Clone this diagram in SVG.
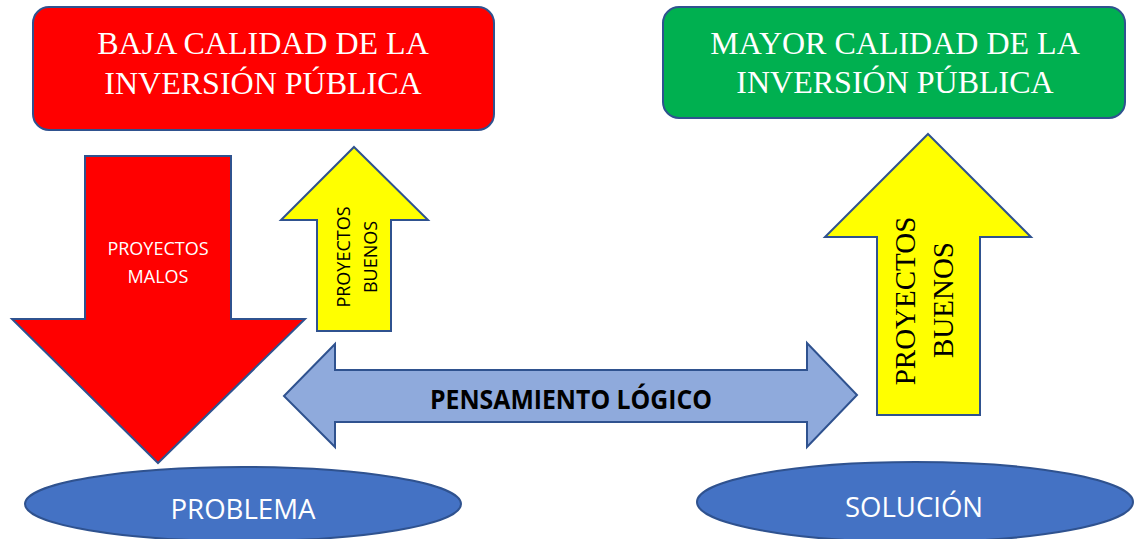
<svg xmlns="http://www.w3.org/2000/svg" width="1134" height="539" viewBox="0 0 1134 539">
<style>
.s{stroke:#2F528F;stroke-width:2;stroke-linejoin:miter}
.serif{font-family:"Liberation Serif","Times New Roman",serif}
.sans{font-family:"Open Sans","Noto Sans","Liberation Sans",sans-serif}
</style>
<rect width="1134" height="539" fill="#FFFFFF"/>
<g id="box-baja">
<rect class="s" x="33" y="7" width="461" height="123" rx="16" ry="16" fill="#FF0000"/>
<text class="serif" x="263" y="54" font-size="32" fill="#FFFFFF" text-anchor="middle">BAJA CALIDAD DE LA</text>
<text class="serif" x="263" y="94" font-size="32" fill="#FFFFFF" text-anchor="middle">INVERSIÓN PÚBLICA</text>
</g>
<g id="box-mayor">
<rect class="s" x="663" y="7" width="462" height="111" rx="16" ry="16" fill="#00B050"/>
<text class="serif" x="895" y="54" font-size="32" fill="#FFFFFF" text-anchor="middle">MAYOR CALIDAD DE LA</text>
<text class="serif" x="895" y="93" font-size="32" fill="#FFFFFF" text-anchor="middle">INVERSIÓN PÚBLICA</text>
</g>
<g id="connectors">
<g id="arrow-malos">
<polygon class="s" points="85,156 231,156 231,319 305,319 158,463 12,319 85,319" fill="#FF0000"/>
<text class="sans" x="158" y="255" font-size="18" fill="#FFFFFF" text-anchor="middle">PROYECTOS</text>
<text class="sans" x="158" y="283" font-size="18" fill="#FFFFFF" text-anchor="middle">MALOS</text>
</g>
<g id="arrow-buenos-small">
<polygon class="s" points="354,147 428,220 391,220 391,331 317,331 317,220 281,220" fill="#FFFF00"/>
<text class="sans" x="350" y="257" font-size="18" fill="#000000" text-anchor="middle" transform="rotate(-90 350 257)">PROYECTOS</text>
<text class="sans" x="377" y="257" font-size="18" fill="#000000" text-anchor="middle" transform="rotate(-90 377 257)">BUENOS</text>
</g>
<g id="arrow-pensamiento">
<polygon class="s" points="284,396 335,344 335,370 807,370 807,343 857,395 807,447 807,422 335,422 335,447" fill="#8FAADC"/>
<text class="sans" x="571" y="409" font-size="26" font-weight="bold" fill="#000000" text-anchor="middle" textLength="282" lengthAdjust="spacingAndGlyphs">PENSAMIENTO LÓGICO</text>
</g>
<g id="arrow-buenos-big">
<polygon class="s" points="928,134 1031,237 980,237 980,415 877,415 877,237 825,237" fill="#FFFF00"/>
<text class="serif" x="915" y="301" font-size="29" fill="#000000" text-anchor="middle" transform="rotate(-90 915 301)">PROYECTOS</text>
<text class="serif" x="953" y="300" font-size="29" fill="#000000" text-anchor="middle" transform="rotate(-90 953 300)">BUENOS</text>
</g>
</g>
<g id="node-problema">
<ellipse class="s" cx="243" cy="504" rx="218" ry="37" fill="#4472C4"/>
<text class="sans" x="243" y="519" font-size="28" fill="#FFFFFF" text-anchor="middle" textLength="145" lengthAdjust="spacingAndGlyphs">PROBLEMA</text>
</g>
<g id="node-solucion">
<ellipse class="s" cx="915" cy="502" rx="218" ry="40" fill="#4472C4"/>
<text class="sans" x="914" y="517" font-size="28" fill="#FFFFFF" text-anchor="middle" textLength="138" lengthAdjust="spacingAndGlyphs">SOLUCIÓN</text>
</g>
</svg>
